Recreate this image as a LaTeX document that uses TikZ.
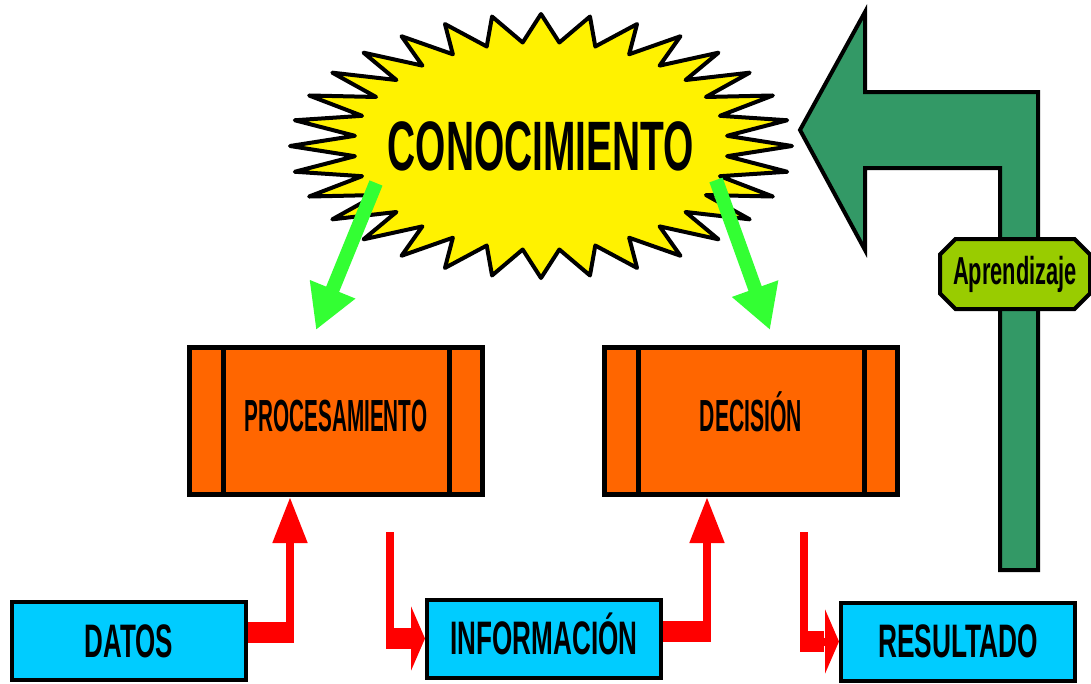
\documentclass[tikz,border=0pt]{standalone}
\usepackage{fontspec}
\usepackage{graphicx}
\usetikzlibrary{arrows.meta,shapes.misc}
\setmainfont{Liberation Sans}

\definecolor{cielo}{HTML}{00CCFF}
\definecolor{naranja}{HTML}{FF6600}
\definecolor{verde}{HTML}{33FF33}
\definecolor{verdeosc}{HTML}{339966}
\definecolor{lima}{HTML}{99CC00}

\newcommand{\sqz}[3]{\scalebox{#1}[1]{\fontsize{#2}{#2}\selectfont\bfseries\vphantom{X}\smash{#3}}}

\tikzset{
    dato/.style={shape=rectangle,draw=black,line width=4pt,fill=cielo,minimum width=234pt,minimum height=78pt,inner sep=0pt},
    proceso/.style={shape=rectangle,draw=black,line width=5pt,fill=naranja,minimum width=293pt,minimum height=147pt,inner sep=0pt,text depth=10pt},
    burbuja/.style={draw=black,fill=yellow,line width=4pt,line join=round},
    barraroja/.style={draw=red,line width=21pt},
    flecharoja/.style={draw=red,line width=8pt},
    flechaverde/.style={draw=verde,line width=14pt,-{Triangle[width=46pt,length=44pt]}}
}

\begin{document}
\begin{tikzpicture}[x=1pt,y=-1pt]
        \useasboundingbox (0,0) rectangle (1091,683);

        \begin{scope}[shift={(541,146)}]
        \draw[burbuja] (0:251 and 132) \foreach \a in {0,11.25,...,348.75} { -- (\a+5.625:187 and 104) -- (\a+11.25:251 and 132) } -- cycle;
        \end{scope}
        \node (conoc) at (541,146) {\sqz{0.556}{70}{CONOCIMIENTO}};

        \node[proceso] (proc) at (336,421) {\sqz{0.46}{45}{PROCESAMIENTO}};
        \node[proceso] (dec) at (751,421) {\sqz{0.47}{45}{DECISIÓN}};
        \draw[line width=5pt] ([xshift=36]proc.north west) -- ([xshift=36]proc.south west);
        \draw[line width=5pt] ([xshift=-36]proc.north east) -- ([xshift=-36]proc.south east);
        \draw[line width=5pt] ([xshift=36]dec.north west) -- ([xshift=36]dec.south west);
        \draw[line width=5pt] ([xshift=-36]dec.north east) -- ([xshift=-36]dec.south east);

        \node[dato] (datos) at (129,641) {\sqz{0.553}{47}{DATOS}};
        \node[dato] (info) at (544,638.5) {\sqz{0.555}{47}{INFORMACIÓN}};
        \node[dato] (result) at (958,641.5) {\sqz{0.56}{47}{RESULTADO}};

        \coordinate (punta) at (800,130);
        \draw[fill=verdeosc,line width=4pt,line join=miter] (punta) -- (865,12) -- (865,92) -- (1038,92) -- (1038,570) -- (1000,570) -- (1000,168) -- (865,168) -- (865,250) -- cycle;
        \node[shape=chamfered rectangle,chamfered rectangle xsep=12pt,draw=black,line width=4pt,fill=lima,minimum width=150pt,minimum height=70pt,inner sep=0pt,text depth=6pt] (apr) at (1015,274) {\sqz{0.56}{39}{Aprendizaje}};

        \draw[flechaverde] ([xshift=-165,yshift=-37]conoc.center) -- ([xshift=-20,yshift=15]proc.north);
        \draw[flechaverde] ([xshift=175,yshift=-34]conoc.center) -- ([xshift=19,yshift=15]dec.north);

        \draw[barraroja] ([yshift=9]datos.east) -- ++(46,0);
        \draw[flecharoja,-{Triangle[width=33pt,length=46pt]}] ([yshift=9]datos.east) -| ([xshift=-46]proc.south);

        \coordinate (c2) at ([xshift=54,yshift=-35]proc.south);
        \draw[flecharoja,-{Triangle[width=64pt,length=14pt]}] (c2) |- (info.west);
        \draw[barraroja] ([xshift=-4]c2 |- info.west) -- ++(26,0);

        \draw[barraroja] ([yshift=7]info.east) -- ++(48,0);
        \draw[flecharoja,-{Triangle[width=33pt,length=46pt]}] ([yshift=7]info.east) -| ([xshift=-44]dec.south);

        \coordinate (c4) at ([xshift=53,yshift=-35]dec.south);
        \draw[flecharoja,-{Triangle[width=64pt,length=14pt]}] (c4) |- (result.west);
        \draw[barraroja] ([xshift=-4]c4 |- result.west) -- ++(24,0);
    \end{tikzpicture}
\end{document}
